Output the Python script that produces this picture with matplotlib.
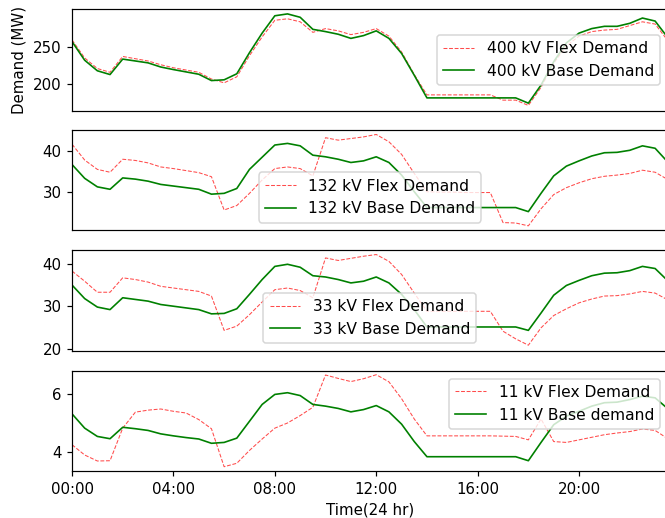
import matplotlib
matplotlib.use('Agg')
import matplotlib.pyplot as plt
from matplotlib.ticker import FuncFormatter
import numpy as np

# half-hourly time steps, in hours
hours = np.arange(48) * 0.5

flex_400 = [259, 235, 221, 216, 237, 234, 231, 226, 222, 219, 216, 207,
            202, 210, 238, 263, 285, 287, 283, 269, 274, 271, 266, 269,
            274, 264, 243, 213, 186, 186, 186, 186, 186, 186, 179, 179,
            172, 196, 228, 251, 264, 270, 272, 273, 278, 283, 280, 258]
base_400 = [256.7, 232, 218, 213, 233.5, 231, 228.5, 223, 219.6, 216.5, 213.4, 205,
            206, 214, 242, 268, 291, 293.5, 289, 273, 270, 266.5, 261, 264.7,
            271, 261, 241, 212, 182, 182, 182, 182, 182, 182, 182, 182,
            175, 199, 230, 255, 268, 274, 277, 277, 281, 288, 284, 262]

flex_132 = [41.7, 37.8, 35.5, 34.8, 38.0, 37.7, 37.1, 36.1, 35.7, 35.2, 34.7, 33.7,
            25.5, 26.6, 29.6, 32.9, 35.7, 36.1, 35.7, 33.9, 43.3, 42.7, 43.1, 43.5,
            44.1, 42.3, 39.2, 34.5, 30.0, 29.9, 29.9, 29.8, 29.8, 29.8, 22.4, 22.3,
            21.6, 25.8, 29.3, 31.0, 32.2, 33.2, 33.8, 34.1, 34.5, 35.3, 34.8, 33.0]
base_132 = [36.7, 33.3, 31.2, 30.6, 33.4, 33.1, 32.6, 31.8, 31.4, 31.0, 30.6, 29.4,
            29.6, 30.8, 35.5, 38.5, 41.5, 41.9, 41.3, 39.0, 38.6, 38.0, 37.2, 37.6,
            38.6, 37.2, 34.1, 30.0, 26.1, 26.1, 26.1, 26.1, 26.1, 26.1, 26.1, 26.1,
            25.1, 29.6, 33.9, 36.3, 37.6, 38.8, 39.6, 39.7, 40.2, 41.3, 40.7, 37.3]

flex_33 = [38.3, 35.9, 33.3, 33.3, 36.7, 36.3, 35.7, 34.7, 34.3, 33.9, 33.5, 32.4,
           24.3, 25.3, 28.0, 31.0, 33.9, 34.3, 33.7, 32.0, 41.4, 40.8, 41.3, 41.8,
           42.2, 40.6, 37.5, 33.1, 28.8, 28.8, 28.8, 28.8, 28.8, 28.8, 24.1, 22.3,
           20.8, 24.9, 27.8, 29.4, 30.8, 31.7, 32.4, 32.5, 32.9, 33.5, 33.1, 31.5]
base_33 = [35.0, 31.8, 29.8, 29.2, 32.0, 31.6, 31.2, 30.4, 30.0, 29.6, 29.2, 28.2,
           28.3, 29.4, 32.8, 36.3, 39.4, 39.9, 39.2, 37.2, 36.9, 36.3, 35.5, 35.9,
           36.9, 35.5, 32.8, 29.2, 25.1, 25.1, 25.1, 25.1, 25.1, 25.1, 25.1, 25.1,
           24.3, 28.4, 32.6, 34.9, 36.1, 37.2, 37.8, 37.9, 38.4, 39.4, 38.9, 36.0]

flex_11 = [4.24, 3.88, 3.67, 3.68, 4.82, 5.38, 5.45, 5.49, 5.41, 5.35, 5.12, 4.80,
           3.47, 3.59, 4.04, 4.44, 4.82, 5.00, 5.26, 5.55, 6.68, 6.56, 6.45, 6.55,
           6.69, 6.44, 5.85, 5.14, 4.55, 4.55, 4.55, 4.55, 4.55, 4.55, 4.54, 4.53,
           4.41, 5.14, 4.35, 4.32, 4.41, 4.50, 4.59, 4.65, 4.70, 4.79, 4.74, 4.45]
base_11 = [5.32, 4.82, 4.53, 4.45, 4.85, 4.80, 4.74, 4.62, 4.55, 4.49, 4.44, 4.29,
           4.32, 4.47, 5.06, 5.65, 6.00, 6.06, 5.96, 5.65, 5.59, 5.51, 5.39, 5.47,
           5.61, 5.39, 4.96, 4.35, 3.82, 3.82, 3.82, 3.82, 3.82, 3.82, 3.82, 3.82,
           3.68, 4.32, 4.94, 5.24, 5.41, 5.59, 5.71, 5.73, 5.82, 5.94, 5.88, 5.50]

panels = [
    (flex_400, base_400, '400 kV Flex Demand', '400 kV Base Demand', 'center right', (165, 300), [200, 250]),
    (flex_132, base_132, '132 kV Flex Demand', '132 kV Base Demand', 'lower center', (20.5, 45.2), [30, 40]),
    (flex_33, base_33, '33 kV Flex Demand', '33 kV Base Demand', 'lower center', (19.5, 43.2), [20, 30, 40]),
    (flex_11, base_11, '11 kV Flex Demand', '11 kV Base demand', 'upper right', (3.32, 6.82), [4, 6]),
]

dpi = 108
fig = plt.figure(figsize=(665 / dpi, 518 / dpi), dpi=dpi)

boxes = [(9, 110.7), (130, 230.3), (250.3, 350.7), (371, 471)]
left, right = 72 / 665, 667.8 / 665

for i, (flex, base, lab_f, lab_b, loc, ylim, yt) in enumerate(panels):
    top, bot = boxes[i]
    ax = fig.add_axes([left, 1 - bot / 518, right - left, (bot - top) / 518])
    ax.plot(hours, flex, 'r--', linewidth=0.7, alpha=0.7, label=lab_f)
    ax.plot(hours, base, 'g', linewidth=1.1, label=lab_b)
    ax.set_xlim(0, 23.5)
    ax.set_ylim(*ylim)
    ax.set_yticks(yt)
    ax.legend(loc=loc, fontsize=10.3)
    if i == 0:
        ax.set_ylabel('Demand (MW)')
    if i < 3:
        ax.set_xticks([])
    else:
        ax.set_xticks(np.arange(0, 24, 4))
        ax.xaxis.set_major_formatter(FuncFormatter(lambda v, p: '%02d:00' % int(v)))
        ax.set_xlabel('Time(24 hr)')

fig.savefig('out.png', dpi=dpi)
